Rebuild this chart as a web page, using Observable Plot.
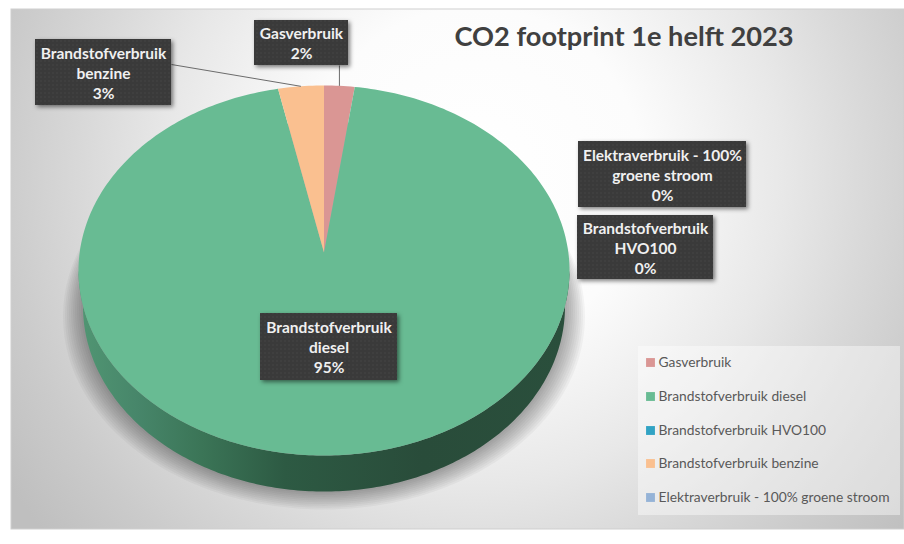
<!DOCTYPE html>
<html>
<head>
<meta charset="utf-8">
<script src="https://cdn.jsdelivr.net/npm/d3@7"></script>
<script src="https://cdn.jsdelivr.net/npm/@observablehq/plot@0.6"></script>
<style>
html,body{margin:0;padding:0;background:#fff}
svg{display:block}
</style>
</head>
<body>
<div id="chart"></div>
<script>
// ---- data ----
const categories = ["Gasverbruik","Brandstofverbruik diesel","Brandstofverbruik HVO100","Brandstofverbruik benzine","Elektraverbruik - 100% groene stroom"];
const shares = [2,95,0,3,0];
const colors = ["#da9694","#68bb93","#31a3c4","#fac090","#95b3d7"];
const titleText = "CO2 footprint 1e helft 2023";
const labelLines = [
  "Gasverbruik\n2%",
  "Brandstofverbruik\ndiesel\n95%",
  "Brandstofverbruik\nHVO100\n0%",
  "Brandstofverbruik\nbenzine\n3%",
  "Elektraverbruik - 100%\ngroene stroom\n0%"
];

// ---- layout ----
const W = 904, H = 544;
const panel = {x1:11,x2:904,y1:9,y2:529};
const pie = {cx:323.5,cy:270,rx:245.5,ry:185,apexY:252,depth:36,baseRx:241};
const boxes = [
  {x1:254,x2:348,y1:20,y2:65},
  {x1:260,x2:397,y1:313,y2:380},
  {x1:577,x2:713,y1:215,y2:279},
  {x1:35,x2:171,y1:39,y2:105},
  {x1:578,x2:746,y1:141,y2:207}
];
const legendBox = {x1:638,x2:900,y1:346,y2:515};
const legendRows = [362,396,430,463,497];
const shadowSteps = [20,18,16,14,12,10,8,6,4,2];

// ---- geometry derived from the values ----
const arcs = d3.pie().sort(null)(shares);
const rim = a => ({x: pie.cx + pie.rx*Math.sin(a), y: pie.cy - pie.ry*Math.cos(a)});
const slices = arcs.flatMap((a,i) => {
  if (a.endAngle === a.startAngle) return [];
  const n = Math.max(2, Math.ceil((a.endAngle-a.startAngle)*60));
  const pts = [{name:categories[i],x:pie.cx,y:pie.apexY}];
  for (let k=0;k<=n;k++) {
    const p = rim(a.startAngle+(a.endAngle-a.startAngle)*k/n);
    pts.push({name:categories[i],x:p.x,y:p.y});
  }
  return pts;
});
const sidePts = [];
for (let k=0;k<=200;k++) {
  const t = Math.PI*k/200;
  sidePts.push({x:pie.cx-pie.rx*Math.cos(t), y:pie.cy+pie.ry*Math.sin(t)});
}
for (let k=200;k>=0;k--) {
  const t = Math.PI*k/200;
  sidePts.push({x:pie.cx-pie.baseRx*Math.cos(t), y:pie.cy+pie.depth+pie.ry*Math.sin(t)});
}
const shadowRing = g => d3.range(0,361).map(k => {
  const t = k*Math.PI/180;
  return {x:pie.cx+(pie.baseRx+g)*Math.cos(t), y:pie.cy+pie.depth+g*0.5+(pie.ry+g*0.4)*Math.sin(t)};
});
const labels = categories.map((c,i)=>({name:c,text:labelLines[i],...boxes[i]}));
const mid = i => rim((arcs[i].startAngle+arcs[i].endAngle)/2);
const leaders = [
  {x1:mid(0).x,y1:boxes[0].y2,x2:mid(0).x,y2:mid(0).y},
  {x1:boxes[3].x2,y1:64,x2:mid(3).x,y2:mid(3).y}
];
const legendData = categories.map((c,i)=>({name:c,y:legendRows[i]}));

const defs = () => {
  const d = d3.create("svg:defs");
  const bg = d.append("radialGradient").attr("id","panelBg")
    .attr("gradientUnits","userSpaceOnUse").attr("cx",475).attr("cy",175).attr("r",560);
  [[0,"#ffffff"],[.3,"#fcfcfc"],[.55,"#e8e8e8"],[.7,"#d9d9d9"],[.85,"#cbcbcb"],[1,"#bfbfbf"]]
    .forEach(([o,c])=>bg.append("stop").attr("offset",o).attr("stop-color",c));
  const side = d.append("linearGradient").attr("id","sideFill").attr("x1",0).attr("x2",1).attr("y1",0).attr("y2",0);
  [[0,"#519673"],[.12,"#47866a"],[.25,"#3b7557"],[.42,"#2d5a43"],[.7,"#294c3a"],[1,"#2a4f3c"]]
    .forEach(([o,c])=>side.append("stop").attr("offset",o).attr("stop-color",c));
  const p = d.append("pattern").attr("id","dots").attr("width",4).attr("height",4).attr("patternUnits","userSpaceOnUse");
  p.append("rect").attr("width",4).attr("height",4).attr("fill","#3a3a3a");
  p.append("circle").attr("cx",1).attr("cy",1).attr("r",.7).attr("fill","#474747");
  return d.node();
};

const font = "Lato, 'Open Sans', sans-serif";
const chart = Plot.plot({
  width:W,height:H,margin:0,
  style:{background:"#fff"},
  x:{domain:[0,W],range:[0,W],axis:null},
  y:{domain:[0,H],range:[0,H],axis:null},
  color:{domain:categories,range:colors},
  marks:[
    defs,
    Plot.rect([panel],{x1:"x1",x2:"x2",y1:"y1",y2:"y2",fill:"url(#panelBg)",stroke:"#cfcfcf",strokeWidth:1}),
    ...shadowSteps.map(g => Plot.line(shadowRing(g),{x:"x",y:"y",fill:"#000000",fillOpacity:.035,stroke:null})),
    Plot.line(sidePts,{x:"x",y:"y",fill:"url(#sideFill)",stroke:null}),
    Plot.line(slices,{x:"x",y:"y",z:"name",fill:"name",stroke:null,curve:"linear"}),
    Plot.link(leaders,{x1:"x1",y1:"y1",x2:"x2",y2:"y2",stroke:"#6b6b6b",strokeWidth:1}),
    Plot.rect(labels,{x1:"x1",x2:"x2",y1:"y1",y2:"y2",fill:"url(#dots)",imageFilter:"drop-shadow(2px 2px 2px rgba(0,0,0,.5))"}),
    Plot.text(labels,{x:d=>(d.x1+d.x2)/2,y:d=>(d.y1+d.y2)/2,text:"text",fill:"#f0f0f0",fontSize:15.5,fontWeight:700,fontFamily:font,lineHeight:1.29,textAnchor:"middle"}),
    Plot.text([titleText],{x:454,y:37,text:d=>d,fill:"#404040",fontSize:27.2,fontWeight:700,fontFamily:font,textAnchor:"start"}),
    Plot.rect([legendBox],{x1:"x1",x2:"x2",y1:"y1",y2:"y2",fill:"#ffffff",fillOpacity:.42}),
    Plot.dot(legendData,{x:()=>650,y:"y",r:5,symbol:"square",fill:"name",stroke:null}),
    Plot.text(legendData,{x:()=>658,y:"y",text:"name",fill:"#595959",fontSize:13.8,fontFamily:font,textAnchor:"start"})
  ]
});
document.getElementById("chart").append(chart);
</script>
</body>
</html>
